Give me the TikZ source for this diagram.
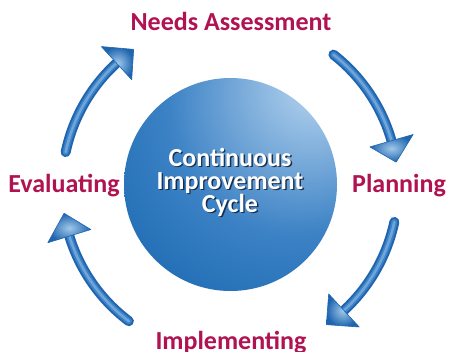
\documentclass[tikz,border=0pt]{standalone}
\usepackage{fontspec}
\setmainfont{Carlito}
\usetikzlibrary{fadings,calc}
\definecolor{lblc}{RGB}{176,18,82}
\definecolor{sphL}{RGB}{166,201,233}
\definecolor{sphM}{RGB}{60,130,197}
\definecolor{sphD}{RGB}{18,98,172}
\definecolor{sphDD}{RGB}{8,86,160}
\definecolor{arrD}{RGB}{30,100,174}
\definecolor{arrM}{RGB}{62,131,199}
\definecolor{arrL}{RGB}{160,200,234}
\definecolor{shad}{RGB}{15,30,55}
\pgfdeclareradialshading{spheresh}{\pgfpoint{22bp}{26bp}}{color(0bp)=(sphL); color(6bp)=(sphL); color(30bp)=(sphM); color(55bp)=(sphD); color(75bp)=(sphDD); color(100bp)=(sphDD)}
\pgfdeclareradialshading{rimsh}{\pgfpointorigin}{color(0bp)=(black); color(38bp)=(black); color(50bp)=(black!40!white); color(100bp)=(black!40!white)}
\pgfdeclarefading{rimfade}{\pgfuseshading{rimsh}}
\tikzset{
  lbl/.style={text=lblc, font=\bfseries\fontsize{26}{30}\selectfont, inner sep=0pt, anchor=base},
  ctext/.style={text=white, font=\bfseries\fontsize{26}{28}\selectfont, inner sep=0pt, anchor=base},
  cshadow/.style={ctext, text=shad, text opacity=0.85},
  shaftA/.style={line width=10pt, arrD, line cap=round},
  shaftB/.style={line width=6pt, arrM, line cap=round},
  shaftC/.style={line width=2.5pt, arrL, line cap=round, opacity=0.5},
  headstyle/.style={inner color=arrL, outer color=arrD},
  headedge/.style={draw=arrD, line width=0.6pt, line join=round}
}
\newcommand\cyclearrow[3]{%
  \draw[shaftA] ($(c)+(-#1:168)$) arc[start angle=-#1, end angle=-#2, radius=168];
  \draw[shaftB] ($(c)+(-#1:168)$) arc[start angle=-#1, end angle=-#2, radius=168];
  \draw[shaftC] ($(c)+(-#1:168)$) arc[start angle=-#1, end angle=-#2, radius=168];
  \shade[headstyle] ($(c)+(-#2:145.5)$) -- ($(c)+(-#2:190.5)$) -- ($(c)+(-#3:168)$) -- cycle;
  \draw[headedge] ($(c)+(-#2:145.5)$) -- ($(c)+(-#2:190.5)$) -- ($(c)+(-#3:168)$) -- cycle;
}
\begin{document}
\begin{tikzpicture}[x=1pt,y=-1pt]
\useasboundingbox (0,0) rectangle (449,351);
\clip (0,0) rectangle (449,351);
\fill[white] (0,0) rectangle (449,351);
\coordinate (c) at (230,187);
\coordinate (sc) at (230.5,184.5);
% sphere
\shade[shading=spheresh] (sc) circle (106.5);
\fill[sphDD, path fading=rimfade] (sc) circle (106.5);
% centre text
\node[cshadow] (c1s) at (231.4,167.4) {Continuous};
\node[cshadow] (c2s) at (231.4,190.4) {Improvement};
\node[cshadow] (c3s) at (231.4,213.4) {Cycle};
\node[ctext] (c1) at (230,166) {Continuous};
\node[ctext] (c2) at (230,189) {Improvement};
\node[ctext] (c3) at (230,212) {Cycle};
% labels
\node[lbl] (needs) at (231,30) {Needs Assessment};
\node[lbl] (plan) at (399,192) {Planning};
\node[lbl] (eval) at (64,192) {Evaluating};
\node[lbl] (impl) at (231,349) {Implementing};
% arrows (tail angle, head base angle, tip angle)
\cyclearrow{52}{16}{8.5}
\cyclearrow{-12}{-47.3}{-55}
\cyclearrow{233}{197}{189}
\cyclearrow{168}{132.5}{125}
\end{tikzpicture}
\end{document}
